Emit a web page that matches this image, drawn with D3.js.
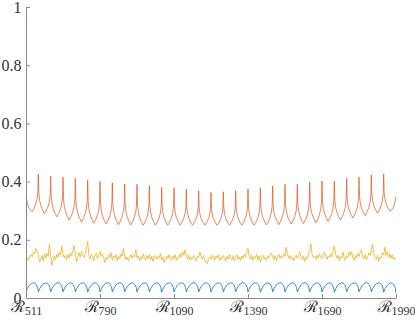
<!DOCTYPE html>
<html>
<head>
<meta charset="utf-8">
<script src="https://cdn.jsdelivr.net/npm/d3@7"></script>
<style>
  html, body { margin: 0; padding: 0; background: #fff; }
  #viz { width: 415px; height: 322px; }
  .ytick text, .xtick text { font-family: "Liberation Serif", serif; }
</style>
</head>
<body>
<div id="viz"></div>
<script>
// x ticks sit every 300 samples, labelled with the R index
const xTickPos = [0, 300, 600, 900, 1200, 1500];
const xTickLabels = ['511', '790', '1090', '1390', '1690', '1990'];
const yTicks = [0, 0.2, 0.4, 0.6, 0.8, 1];

const periodLen = 50;

// orange: one row per period, sampled at these offsets (spike at offset 0)
const orangeOffsets = [0, 2, 5, 10, 17, 25, 33, 40, 45, 48];
const orangeRows = [
  [.348, .340, .328, .313, .304, .297, .309, .323, .340, .362],
  [.426, .358, .335, .317, .302, .290, .302, .316, .333, .355],
  [.419, .349, .325, .307, .292, .279, .291, .306, .324, .347],
  [.415, .342, .317, .297, .281, .268, .281, .297, .315, .340],
  [.411, .336, .311, .291, .275, .261, .274, .290, .309, .333],
  [.405, .331, .306, .287, .270, .257, .270, .286, .304, .329],
  [.400, .327, .302, .283, .267, .254, .267, .282, .301, .325],
  [.396, .324, .300, .281, .265, .252, .265, .280, .298, .322],
  [.392, .322, .298, .279, .264, .251, .264, .279, .297, .321],
  [.391, .321, .297, .278, .263, .250, .262, .277, .295, .318],
  [.386, .318, .295, .277, .262, .250, .262, .276, .293, .315],
  [.380, .315, .293, .276, .262, .250, .262, .276, .293, .315],
  [.379, .315, .293, .276, .262, .250, .261, .275, .291, .313],
  [.375, .313, .291, .275, .261, .250, .261, .274, .289, .310],
  [.369, .310, .289, .274, .261, .250, .260, .273, .287, .307],
  [.363, .307, .287, .273, .260, .250, .260, .273, .288, .308],
  [.365, .308, .288, .273, .260, .250, .261, .274, .289, .310],
  [.369, .310, .289, .274, .261, .250, .261, .275, .291, .313],
  [.375, .313, .291, .275, .261, .250, .262, .276, .293, .315],
  [.379, .315, .293, .277, .263, .251, .263, .278, .295, .318],
  [.385, .319, .296, .279, .264, .252, .265, .280, .298, .322],
  [.391, .323, .299, .281, .266, .254, .266, .281, .299, .323],
  [.391, .324, .301, .283, .268, .256, .269, .285, .303, .328],
  [.399, .329, .305, .287, .272, .259, .272, .288, .306, .331],
  [.402, .333, .309, .291, .276, .263, .276, .291, .309, .333],
  [.402, .335, .312, .295, .280, .268, .281, .297, .315, .340],
  [.411, .343, .320, .302, .287, .275, .288, .303, .321, .345],
  [.415, .349, .327, .309, .295, .283, .296, .311, .329, .353],
  [.423, .357, .335, .317, .303, .291, .303, .318, .336, .359],
  [.426, .362, .340, .324, .310, .298, .304, .313, .328, .340]
];
const orangeEnd = 0.348;

// blue arches, min at each period boundary
const blueOffsets = [0, 6, 13, 21, 29, 36, 42, 47];
const blueRows = [
  [.022, .033, .043, .049, .052, .051, .046, .036],
  [.021, .033, .043, .049, .052, .051, .046, .036],
  [.021, .033, .043, .050, .053, .051, .046, .036],
  [.021, .033, .043, .049, .052, .051, .046, .036],
  [.021, .033, .043, .049, .052, .051, .046, .035],
  [.020, .032, .043, .049, .052, .051, .046, .036],
  [.021, .033, .043, .049, .052, .051, .046, .036],
  [.021, .033, .043, .050, .053, .051, .046, .036],
  [.021, .033, .043, .049, .052, .051, .046, .036],
  [.021, .033, .043, .049, .052, .051, .046, .036],
  [.021, .033, .043, .049, .052, .051, .045, .035],
  [.020, .032, .043, .049, .052, .051, .046, .036],
  [.021, .033, .043, .049, .052, .051, .046, .036],
  [.021, .033, .043, .050, .053, .051, .046, .036],
  [.021, .033, .043, .049, .052, .051, .046, .036],
  [.021, .033, .043, .049, .052, .051, .046, .036],
  [.021, .033, .043, .049, .052, .051, .046, .036],
  [.021, .033, .043, .050, .053, .051, .046, .036],
  [.021, .033, .043, .049, .052, .051, .046, .036],
  [.020, .032, .043, .049, .052, .051, .046, .035],
  [.021, .033, .043, .049, .052, .051, .046, .036],
  [.021, .033, .043, .049, .052, .051, .046, .036],
  [.021, .033, .043, .050, .053, .051, .046, .036],
  [.021, .033, .043, .049, .052, .051, .046, .036],
  [.021, .033, .043, .049, .052, .051, .045, .035],
  [.020, .032, .043, .049, .052, .051, .046, .036],
  [.021, .033, .043, .049, .052, .051, .046, .036],
  [.021, .033, .043, .050, .053, .051, .046, .036],
  [.021, .033, .043, .049, .052, .051, .046, .036],
  [.020, .032, .042, .049, .052, .050, .045, .034]
];
const blueEnd = 0.018;

// yellow noisy series, one sample every 5 points
const yellowStep = 5;
const yellowValues = [
  .132, .138, .129, .145, .150, .141, .158, .152, .170, .160, .149, .124, .131, .146, .128, .150, .137, .153, .142, .186,
  .150, .112, .133, .145, .131, .151, .139, .158, .147, .180, .152, .138, .146, .132, .149, .137, .155, .144, .163, .180,
  .150, .124, .139, .156, .141, .160, .148, .138, .152, .170, .195, .146, .134, .150, .141, .128, .147, .155, .136, .149,
  .160, .143, .152, .138, .121, .140, .132, .148, .139, .155, .130, .144, .137, .149, .127, .143, .134, .152, .145, .170,
  .148, .131, .141, .127, .139, .150, .136, .147, .141, .166, .138, .145, .128, .142, .134, .152, .139, .130, .146, .136,
  .150, .131, .143, .126, .140, .147, .133, .142, .138, .153, .131, .140, .122, .137, .145, .133, .149, .138, .130, .144,
  .135, .148, .129, .141, .137, .152, .140, .158, .147, .166, .143, .135, .148, .129, .140, .134, .146, .138, .127, .144,
  .139, .158, .142, .133, .146, .128, .121, .118, .136, .141, .133, .147, .138, .130, .145, .136, .149, .128, .140, .134,
  .146, .137, .127, .143, .135, .150, .138, .131, .145, .126, .139, .148, .133, .142, .129, .144, .136, .151, .140, .158,
  .170, .141, .133, .147, .129, .143, .137, .150, .131, .145, .122, .139, .147, .134, .141, .129, .146, .138, .148, .155,
  .142, .133, .146, .127, .140, .150, .136, .145, .138, .152, .145, .175, .150, .137, .146, .133, .141, .128, .139, .147,
  .136, .149, .158, .138, .131, .144, .126, .140, .135, .151, .160, .186, .148, .139, .145, .133, .147, .137, .152, .141,
  .136, .149, .158, .144, .133, .146, .138, .152, .141, .160, .178, .150, .137, .147, .128, .143, .136, .157, .140, .130,
  .145, .139, .158, .146, .160, .138, .129, .147, .136, .152, .143, .158, .166, .145, .134, .149, .131, .142, .155, .146,
  .162, .186, .151, .139, .133, .147, .126, .141, .136, .155, .148, .175, .146, .160, .139, .152, .137, .148, .131, .140,
  .135
];

const width = 415;
const height = 322;
const margin = { top: 7, right: 19, bottom: 24, left: 26 };
const innerWidth = width - margin.left - margin.right;
const innerHeight = height - margin.top - margin.bottom;

const svg = d3.select('#viz')
  .append('svg')
  .attr('width', width)
  .attr('height', height);

const chart = svg.append('g')
  .attr('transform', `translate(${margin.left},${margin.top})`);

const x = d3.scaleLinear().domain([0, 1500]).range([0, innerWidth]);
const y = d3.scaleLinear().domain([0, 1]).range([innerHeight, 0]);

function periodPoints(rows, offsets, endValue) {
  const pts = [];
  rows.forEach((row, k) => {
    row.forEach((v, j) => pts.push([k * periodLen + offsets[j], v]));
  });
  pts.push([rows.length * periodLen, endValue]);
  return pts;
}

const orange = periodPoints(orangeRows, orangeOffsets, orangeEnd);
const blue = periodPoints(blueRows, blueOffsets, blueEnd);
const yellow = yellowValues.map((v, i) => [i * yellowStep, v]);

const line = d3.line()
  .x(d => x(d[0]))
  .y(d => y(d[1]));

const series = [
  { data: blue, color: '#0072BD', w: 0.8 },
  { data: orange, color: '#D95319', w: 0.7 },
  { data: yellow, color: '#EDB120', w: 0.8 }
];

series.forEach(s => {
  chart.append('path')
    .datum(s.data)
    .attr('fill', 'none')
    .attr('stroke', s.color)
    .attr('stroke-width', s.w)
    .attr('stroke-linejoin', 'round')
    .attr('d', line);
});

// axes (ticks point inward, MATLAB style)
const axisColor = '#8a8a8a';
const textColor = '#333';

const yAxis = chart.append('g')
  .attr('class', 'ytick')
  .call(d3.axisLeft(y)
    .tickValues(yTicks)
    .tickSizeInner(-4)
    .tickSizeOuter(0)
    .tickPadding(4.5)
    .tickFormat(d => (d === 0 || d === 1) ? String(d) : d.toFixed(1)))
  .attr('font-family', 'Liberation Serif')
  .attr('font-size', 16);

const xAxis = chart.append('g')
  .attr('class', 'xtick')
  .attr('transform', `translate(0,${innerHeight})`)
  .call(d3.axisBottom(x)
    .tickValues(xTickPos)
    .tickSizeInner(-4)
    .tickSizeOuter(0)
    .tickPadding(4)
    .tickFormat(''))
  .attr('font-family', 'Liberation Serif');

[yAxis, xAxis].forEach(g => {
  g.select('.domain').attr('stroke', axisColor);
  g.selectAll('.tick line').attr('stroke', axisColor);
});

yAxis.selectAll('.tick text').attr('fill', textColor);

xAxis.selectAll('.tick text')
  .attr('fill', textColor)
  .attr('dy', null)
  .attr('y', 14)
  .each(function(d, i) {
    const t = d3.select(this);
    t.text(null);
    t.append('tspan')
      .style('font-size', '16px')
      .text('\u211B');
    t.append('tspan')
      .attr('dy', 3)
      .style('font-size', '12px')
      .text(xTickLabels[i]);
  });
</script>
</body>
</html>
